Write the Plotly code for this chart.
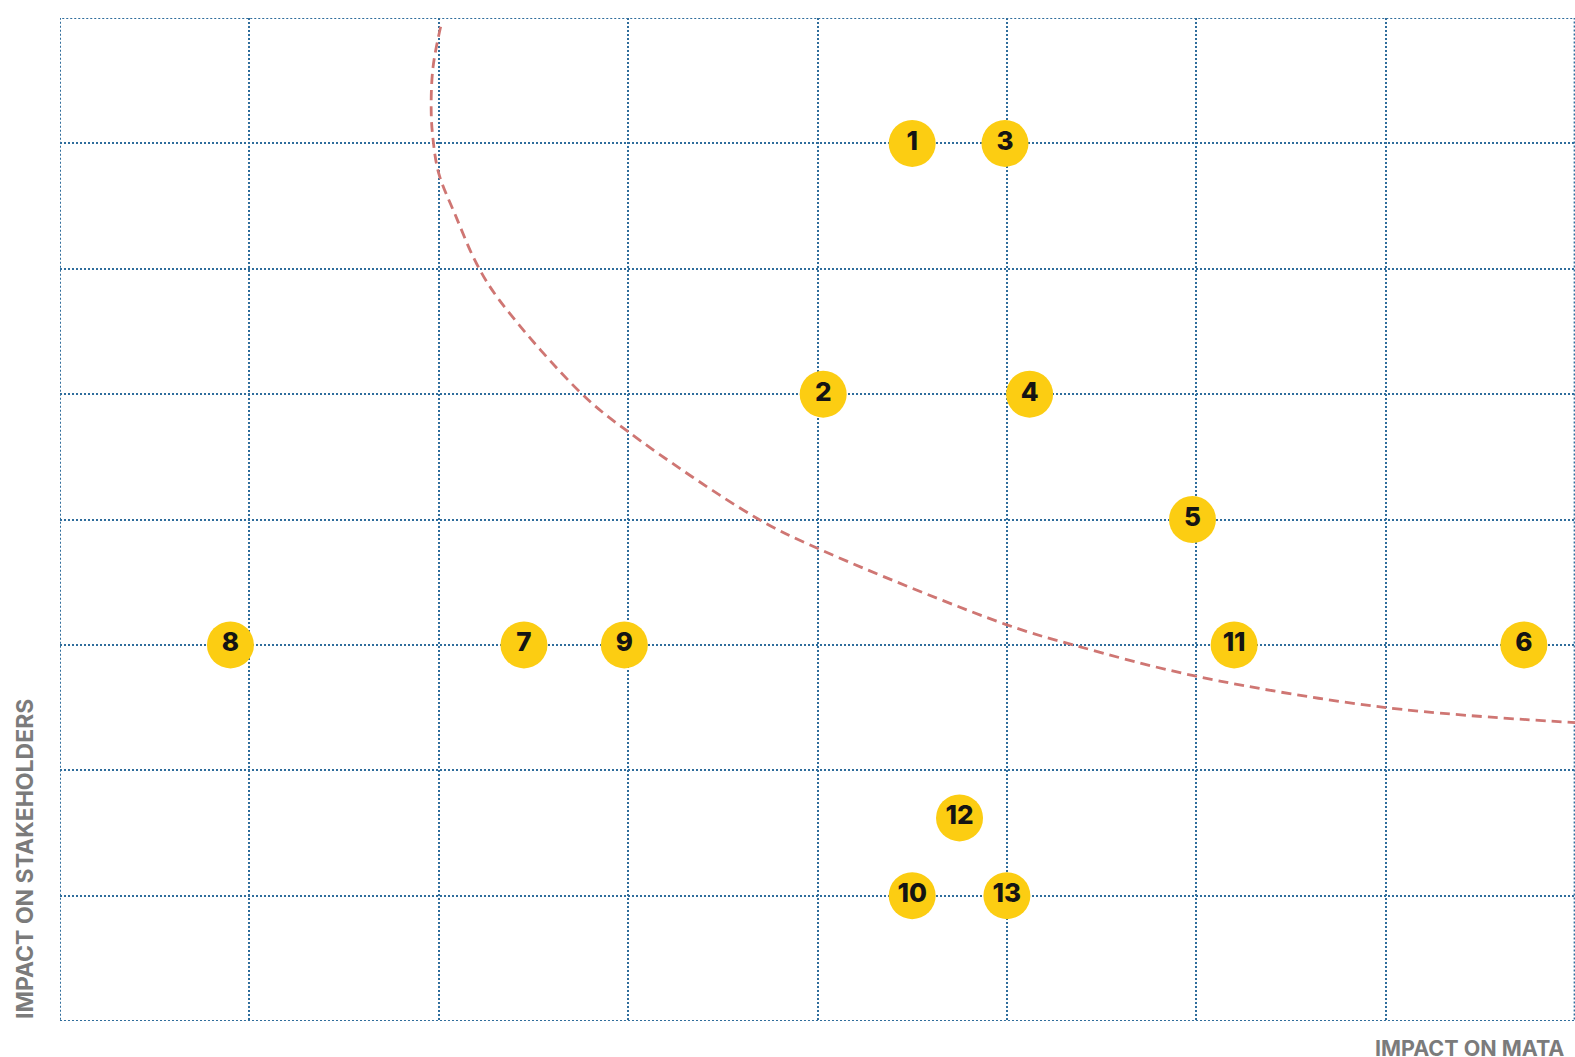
import plotly.graph_objects as go

# Issue positions on the materiality grid (x: impact on business, y: impact on stakeholders)
issue_labels = ["1", "2", "3", "4", "5", "6", "7", "8", "9", "10", "11", "12", "13"]
issue_x = [4.50, 4.03, 4.99, 5.12, 5.98, 7.73, 2.45, 0.90, 2.98, 4.50, 6.20, 4.75, 5.00]
issue_y = [7.00, 5.00, 7.00, 5.00, 4.00, 3.00, 3.00, 3.00, 3.00, 1.00, 3.00, 1.62, 1.00]

# Materiality threshold curve
threshold_x = [2.01, 1.97, 1.96, 1.97, 2.00, 2.09, 2.20, 2.32, 2.75, 3.00, 3.68, 4.00,
               5.00, 5.35, 6.00, 7.00, 8.00]
threshold_y = [7.93, 7.61, 7.27, 7.03, 6.76, 6.42, 6.04, 5.75, 5.01, 4.70, 4.01, 3.77,
               3.16, 3.00, 2.75, 2.50, 2.38]

x_title = "IMPACT ON MATA"
y_title = "IMPACT ON STAKEHOLDERS"

GRID = "#2f6d9c"
GRID_DASH = "2px,2px"
TITLE_GREY = "#7b7b7b"
X_MIN, X_MAX = 0, 8
Y_MIN, Y_MAX = 0, 8

fig = go.Figure()

fig.add_trace(go.Scatter(
    x=threshold_x, y=threshold_y,
    mode="lines",
    line=dict(color="#cf7673", width=2.8, dash="10px,6px", shape="spline", smoothing=1.0),
    hoverinfo="skip",
    showlegend=False,
))

fig.add_trace(go.Scatter(
    x=issue_x, y=issue_y,
    mode="markers+text",
    marker=dict(size=47, color="#fccd12", line=dict(width=0)),
    text=issue_labels,
    textposition="middle center",
    textfont=dict(family="Inter, Roboto, sans-serif", size=26, color="#141414", weight=800),
    hoverinfo="skip",
    showlegend=False,
    cliponaxis=False,
))

axis_common = dict(
    showgrid=True,
    gridcolor=GRID,
    gridwidth=1.6,
    griddash=GRID_DASH,
    dtick=1,
    tick0=0,
    showticklabels=False,
    ticks="",
    zeroline=False,
    showline=False,
    fixedrange=True,
)

fig.update_xaxes(range=[X_MIN, X_MAX], **axis_common)
fig.update_yaxes(range=[Y_MIN, Y_MAX], **axis_common)

# dotted frame around the grid (edge grid lines are not drawn by the axes)
fig.add_shape(
    type="rect", xref="x", yref="y",
    x0=X_MIN, x1=X_MAX - 0.002, y0=Y_MIN, y1=Y_MAX,
    line=dict(color=GRID, width=2, dash=GRID_DASH),
    fillcolor="rgba(0,0,0,0)",
    layer="below",
)

fig.add_annotation(
    xref="paper", yref="paper",
    x=-0.0231, y=0.0,
    xanchor="center", yanchor="bottom",
    text=y_title, textangle=-90, showarrow=False,
    font=dict(family="Inter, Roboto, sans-serif", size=23, color=TITLE_GREY, weight=700),
)

fig.add_annotation(
    xref="paper", yref="paper",
    x=0.8667, y=-0.0265,
    xanchor="left", yanchor="middle",
    text=x_title, showarrow=False,
    font=dict(family="Inter, Roboto, sans-serif", size=21.5, color=TITLE_GREY, weight=700),
)

fig.update_layout(
    width=1575, height=1057,
    margin=dict(l=60, r=0, t=18, b=36),
    paper_bgcolor="white",
    plot_bgcolor="white",
    showlegend=False,
)

fig.write_html("out.html", config={"displayModeBar": False})
